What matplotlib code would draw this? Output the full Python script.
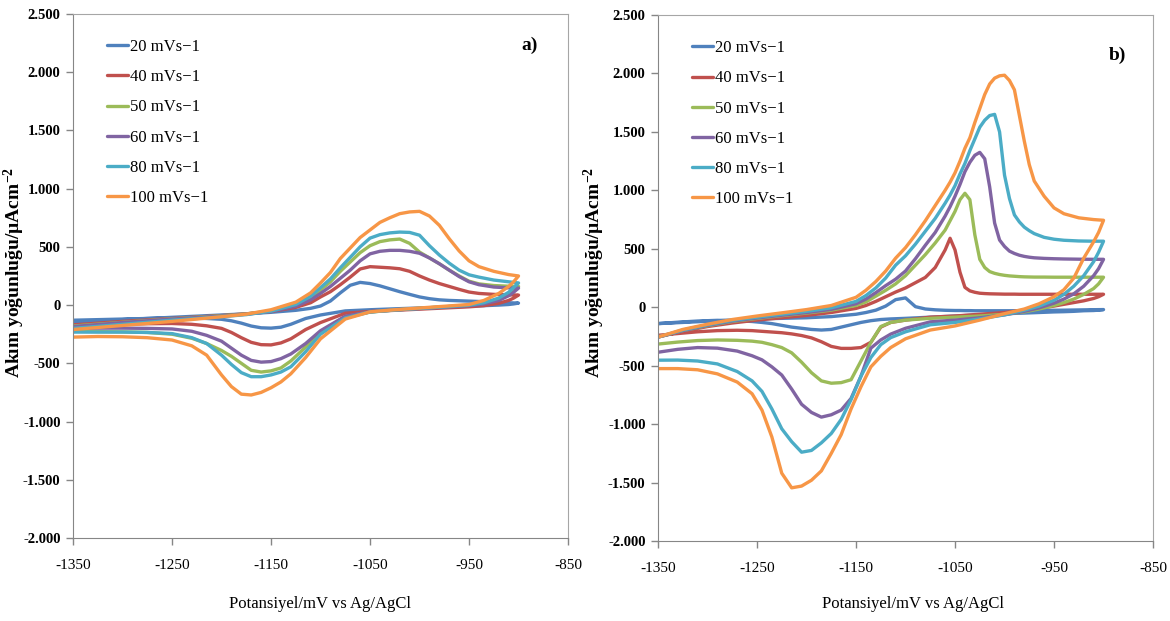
import matplotlib
matplotlib.use("Agg")
from matplotlib import pyplot as plt
from matplotlib.ticker import FixedLocator, FuncFormatter

plt.rcParams["font.family"] = ["Liberation Serif", "DejaVu Serif"]
plt.rcParams["mathtext.fontset"] = "custom"
plt.rcParams["mathtext.rm"] = "Liberation Serif"
plt.rcParams["mathtext.bf"] = "Liberation Serif:bold"
plt.rcParams["mathtext.default"] = "bf"

# --- scan rates / legend ---
labels = ["20 mVs\u22121", "40 mVs\u22121", "50 mVs\u22121",
          "60 mVs\u22121", "80 mVs\u22121", "100 mVs\u22121"]
colors = ["#4F81BD", "#C0504D", "#9BBB59", "#8064A2", "#4BACC6", "#F79646"]

# --- panel a) : forward (anodic) scan, -1350 -> -900 mV ---
E_up_a = [-1350, -1300, -1250, -1200, -1175, -1150, -1125, -1110, -1100, -1090,
          -1080, -1070, -1060, -1050, -1040, -1030, -1020, -1010, -1000, -990,
          -980, -970, -960, -950, -940, -925, -910, -900]
a_up_20 = [-150, -125, -105, -85, -75, -62, -45, -28, -8, 35, 105, 170, 195, 185,
           165, 140, 115, 92, 70, 55, 45, 40, 37, 34, 31, 26, 20, 17]
a_up_40 = [-170, -140, -115, -90, -75, -55, -20, 20, 70, 115, 175, 240, 310, 330,
           325, 320, 312, 290, 250, 215, 185, 160, 135, 112, 100, 92, 88, 86]
a_up_50 = [-180, -148, -118, -92, -76, -50, 0, 60, 130, 200, 290, 370, 450, 510,
           545, 560, 567, 530, 455, 405, 355, 300, 250, 205, 182, 168, 162, 160]
a_up_60 = [-185, -150, -120, -95, -78, -55, -10, 45, 100, 160, 230, 300, 380, 440,
           462, 470, 470, 462, 445, 405, 355, 300, 245, 200, 175, 155, 148, 146]
a_up_80 = [-200, -165, -130, -100, -82, -52, 5, 75, 150, 225, 320, 410, 500, 575,
           605, 620, 627, 624, 600, 510, 430, 360, 300, 260, 240, 215, 200, 190]
a_up_100 = [-210, -175, -140, -100, -78, -40, 25, 105, 190, 280, 400, 490, 580, 645,
            710, 750, 785, 800, 805, 765, 685, 570, 465, 380, 330, 290, 262, 250]

# --- panel a) : reverse (cathodic) scan, -900 -> -1350 mV ---
E_dn_a = [-900, -905, -910, -920, -935, -950, -975, -1000, -1025, -1050, -1075,
          -1100, -1115, -1130, -1140, -1150, -1160, -1170, -1180, -1190, -1200,
          -1215, -1230, -1250, -1275, -1300, -1325, -1350]
a_dn_20 = [17, 10, 5, 0, -5, -10, -18, -25, -32, -40, -50, -85, -115, -165, -190,
           -198, -195, -180, -155, -135, -122, -115, -112, -112, -115, -120, -125, -130]
a_dn_40 = [86, 60, 40, 15, -5, -15, -25, -35, -45, -55, -70, -150, -210, -290, -325,
           -342, -340, -320, -280, -235, -200, -178, -165, -158, -160, -165, -170, -175]
a_dn_50 = [160, 125, 95, 50, 15, -2, -15, -28, -42, -60, -100, -230, -360, -480, -540,
           -565, -575, -560, -500, -440, -390, -330, -285, -250, -235, -230, -228, -225]
a_dn_60 = [146, 110, 80, 40, 10, -5, -18, -30, -42, -58, -95, -220, -330, -420, -460,
           -485, -490, -475, -430, -370, -310, -260, -225, -205, -200, -198, -198, -200]
a_dn_80 = [190, 150, 110, 60, 20, 0, -15, -28, -42, -60, -110, -250, -400, -530, -575,
           -600, -615, -615, -580, -510, -430, -330, -280, -245, -235, -232, -232, -232]
a_dn_100 = [250, 200, 160, 100, 40, 5, -10, -25, -40, -58, -120, -290, -450, -590, -660,
            -710, -750, -772, -765, -700, -600, -430, -350, -300, -280, -272, -270, -275]

# --- panel b) : forward scan ---
E_up_b = [-1350, -1325, -1300, -1275, -1250, -1225, -1200, -1175, -1150, -1140,
          -1130, -1120, -1110, -1100, -1090, -1080, -1070, -1060, -1055, -1050,
          -1045, -1040, -1035, -1030, -1025, -1020, -1015, -1010, -1005, -1000,
          -995, -990, -985, -980, -975, -970, -960, -950, -940, -925, -910, -900]
b_up_20 = [-140, -130, -120, -110, -100, -95, -90, -80, -60, -45, -25, 10, 65, 80,
           5, -15, -22, -26, -27, -28, -28, -29, -29, -30, -30, -30, -30, -30, -30,
           -30, -30, -30, -29, -29, -28, -28, -27, -26, -25, -23, -21, -20]
b_up_40 = [-255, -205, -165, -135, -110, -90, -70, -45, -10, 15, 50, 90, 130, 165,
           210, 255, 340, 490, 590, 490, 300, 170, 140, 128, 120, 117, 115, 114, 113,
           112, 112, 112, 111, 111, 111, 111, 111, 111, 111, 111, 111, 111]
b_up_50 = [-255, -200, -158, -122, -96, -72, -50, -25, 15, 45, 95, 145, 200, 270,
           360, 450, 550, 660, 740, 820, 920, 975, 920, 620, 410, 340, 305, 290, 280,
           273, 268, 265, 262, 260, 259, 258, 258, 257, 257, 257, 257, 257]
b_up_60 = [-255, -200, -155, -118, -92, -68, -45, -18, 30, 70, 125, 185, 240, 310,
           415, 530, 640, 780, 860, 950, 1050, 1160, 1240, 1300, 1325, 1270, 1030, 720,
           575, 520, 480, 460, 445, 435, 428, 423, 418, 415, 413, 411, 410, 410]
b_up_80 = [-255, -195, -150, -112, -85, -60, -35, -5, 50, 100, 165, 250, 360, 440,
           540, 650, 760, 890, 960, 1040, 1140, 1230, 1340, 1440, 1540, 1600, 1640,
           1650, 1500, 1130, 930, 790, 730, 685, 655, 630, 598, 582, 573, 567, 565, 565]
b_up_100 = [-255, -190, -145, -105, -75, -48, -20, 15, 85, 145, 220, 310, 420, 510,
            620, 740, 870, 1000, 1070, 1150, 1250, 1360, 1450, 1580, 1700, 1820, 1910,
            1960, 1980, 1985, 1940, 1860, 1640, 1420, 1220, 1080, 950, 850, 800, 765,
            750, 744]

# --- panel b) : reverse scan ---
E_dn_b = [-900, -905, -910, -920, -930, -940, -950, -965, -980, -1000, -1025, -1050,
          -1075, -1100, -1115, -1125, -1135, -1145, -1155, -1165, -1175, -1185, -1195,
          -1205, -1215, -1225, -1235, -1245, -1255, -1270, -1290, -1310, -1330, -1350]
b_dn_20 = [-20, -25, -28, -30, -35, -38, -40, -45, -50, -55, -65, -75, -85, -95, -100,
           -105, -115, -130, -150, -170, -190, -195, -190, -180, -170, -155, -140, -130,
           -122, -115, -112, -118, -128, -140]
b_dn_40 = [111, 90, 75, 55, 40, 25, 10, -10, -25, -45, -60, -75, -85, -110, -130, -170,
           -300, -345, -352, -352, -335, -295, -262, -242, -228, -218, -212, -206, -200,
           -197, -200, -210, -225, -240]
b_dn_50 = [257, 200, 160, 110, 70, 40, 15, -15, -40, -60, -75, -85, -95, -110, -130,
           -165, -300, -460, -620, -645, -650, -630, -560, -470, -390, -345, -320, -300,
           -290, -283, -280, -285, -298, -315]
b_dn_60 = [410, 330, 270, 180, 115, 70, 35, -5, -35, -65, -90, -110, -125, -180, -230,
           -280, -350, -590, -780, -880, -920, -940, -900, -830, -700, -580, -510, -450,
           -415, -375, -350, -345, -360, -385]
b_dn_80 = [565, 470, 390, 270, 180, 110, 60, 10, -25, -65, -100, -130, -150, -210, -260,
           -320, -430, -590, -790, -960, -1080, -1160, -1225, -1240, -1150, -1040, -870,
           -720, -630, -550, -485, -460, -452, -453]
b_dn_100 = [744, 640, 560, 420, 250, 150, 90, 30, -15, -55, -110, -160, -195, -270, -345,
            -420, -510, -680, -870, -1090, -1250, -1400, -1480, -1530, -1545, -1420,
            -1110, -880, -740, -640, -570, -535, -525, -525]

y_ticks = [-2000, -1500, -1000, -500, 0, 500, 1000, 1500, 2000, 2500]
x_ticks = [-1350, -1250, -1150, -1050, -950, -850]

fig = plt.figure(figsize=(11.7, 6.21), dpi=100)
ax_a = fig.add_axes([0.0624, 0.1337, 0.4231, 0.8438])
ax_b = fig.add_axes([0.5624, 0.1288, 0.4231, 0.8470])

panels = [
    (ax_a, E_up_a, E_dn_a,
     [a_up_20, a_up_40, a_up_50, a_up_60, a_up_80, a_up_100],
     [a_dn_20, a_dn_40, a_dn_50, a_dn_60, a_dn_80, a_dn_100], "a)", (0.923, 0.941)),
    (ax_b, E_up_b, E_dn_b,
     [b_up_20, b_up_40, b_up_50, b_up_60, b_up_80, b_up_100],
     [b_dn_20, b_dn_40, b_dn_50, b_dn_60, b_dn_80, b_dn_100], "b)", (0.929, 0.924)),
]

for ax, e_up, e_dn, ups, dns, tag, tag_pos in panels:
    for up, dn, lab, col in zip(ups, dns, labels, colors):
        ax.plot(e_up + e_dn, up + dn, color=col, lw=2.4, label=lab,
                solid_capstyle="round", solid_joinstyle="round")

    ax.set_xlim(-1350, -850)
    ax.set_ylim(-2000, 2500)
    ax.xaxis.set_major_locator(FixedLocator(x_ticks))
    ax.yaxis.set_major_locator(FixedLocator(y_ticks))
    ax.xaxis.set_major_formatter(FuncFormatter(lambda v, p: str(int(v))))
    ax.yaxis.set_major_formatter(
        FuncFormatter(lambda v, p: f"{v:,.0f}".replace(",", ".")))
    ax.tick_params(axis="y", direction="out", length=5, width=1, color="#868686",
                   pad=4, labelsize=10.5)
    ax.tick_params(axis="x", direction="out", length=5, width=1, color="#868686",
                   pad=10, labelsize=11)
    for t in ax.get_yticklabels():
        t.set_fontweight("bold")
    for side in ["left", "bottom"]:
        ax.spines[side].set_color("#868686")
    for side in ["top", "right"]:
        ax.spines[side].set_color("#a6a6a6")

    ax.legend(loc="upper left", bbox_to_anchor=(0.068, 0.952), frameon=False,
              fontsize=12, handlelength=1.25, handletextpad=0.15,
              labelspacing=0.85, borderpad=0, borderaxespad=0)
    ax.text(tag_pos[0], tag_pos[1], tag, transform=ax.transAxes, fontsize=14,
            fontweight="bold", ha="center", va="center")

ylab = "Akım yoğunluğu/µAcm$^{-2}$"
fig.text(0.0125, 0.562, ylab, rotation=90, fontsize=14, fontweight="bold",
         ha="center", va="center")
fig.text(0.508, 0.562, ylab, rotation=90, fontsize=14, fontweight="bold",
         ha="center", va="center")
fig.text(0.2735, 0.027, "Potansiyel/mV vs Ag/AgCl", fontsize=12,
         ha="center", va="center")
fig.text(0.78, 0.027, "Potansiyel/mV vs Ag/AgCl", fontsize=12,
         ha="center", va="center")

fig.savefig("out.png", dpi=100)
